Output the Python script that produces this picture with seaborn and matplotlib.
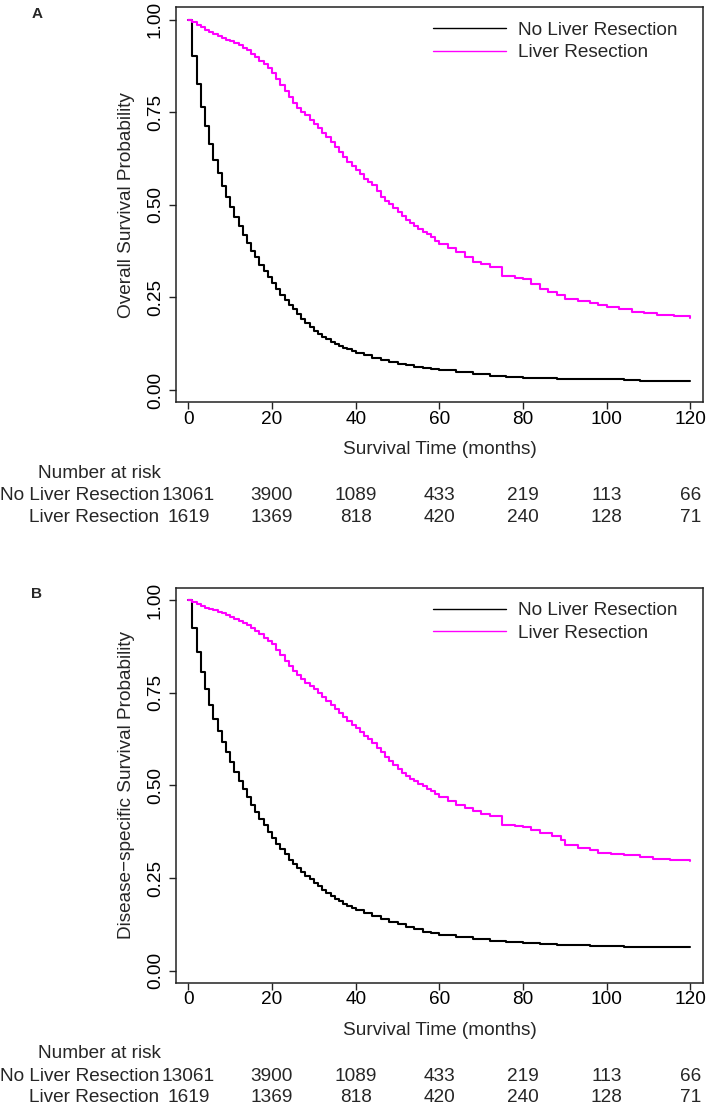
import numpy as np
import pandas as pd
import matplotlib
matplotlib.use("Agg")
import matplotlib.pyplot as plt
import seaborn as sns
from matplotlib.transforms import blended_transform_factory

# ---------------- data ----------------
groups = ["No Liver Resection", "Liver Resection"]
palette = {"No Liver Resection": "#000000", "Liver Resection": "#FF00FF"}

monthly = list(range(0, 61))

# Panel A: overall survival
os_no_t = list(range(0, 41)) + [42, 44, 46, 48, 50, 52, 54, 56, 58, 60, 64, 68, 72, 76, 80,
                                 84, 88, 92, 96, 100, 104, 108, 112, 116, 120]
os_no_s = [1.000, 0.901, 0.826, 0.764, 0.712, 0.665, 0.622, 0.585, 0.551, 0.520,
           0.495, 0.468, 0.442, 0.418, 0.396, 0.376, 0.358, 0.339, 0.322, 0.304,
           0.288, 0.272, 0.256, 0.243, 0.229, 0.218, 0.205, 0.193, 0.182, 0.171,
           0.160, 0.152, 0.144, 0.137, 0.130, 0.124, 0.119, 0.114, 0.110, 0.105,
           0.101, 0.094, 0.088, 0.082, 0.076, 0.071, 0.067, 0.063, 0.060, 0.057,
           0.054, 0.048, 0.043, 0.039, 0.036, 0.033, 0.032, 0.031, 0.030, 0.029,
           0.0288, 0.028, 0.026, 0.025, 0.024, 0.024]

os_lr_t = monthly + [62, 64, 66, 68, 70, 72, 75, 78, 80, 82, 84, 86, 88, 90, 93, 96, 98,
                     100, 103, 106, 109, 112, 116, 120]
os_lr_s = [1.000, 0.992, 0.985, 0.979, 0.973, 0.967, 0.962, 0.956, 0.951, 0.946,
           0.942, 0.937, 0.931, 0.924, 0.917, 0.908, 0.899, 0.889, 0.879, 0.868,
           0.856, 0.840, 0.823, 0.807, 0.791, 0.775, 0.760, 0.751, 0.742, 0.730,
           0.718, 0.706, 0.694, 0.682, 0.670, 0.657, 0.643, 0.630, 0.616, 0.605,
           0.594, 0.582, 0.571, 0.562, 0.553, 0.538, 0.522, 0.511, 0.501, 0.491,
           0.481, 0.470, 0.459, 0.450, 0.442, 0.434, 0.427, 0.420, 0.412, 0.403,
           0.394, 0.383, 0.373, 0.360, 0.346, 0.340, 0.333, 0.308, 0.303, 0.299,
           0.287, 0.274, 0.266, 0.258, 0.247, 0.240, 0.234, 0.229, 0.225, 0.219,
           0.212, 0.207, 0.204, 0.199, 0.195]

# Panel B: disease-specific survival
ds_no_t = list(range(0, 41)) + [42, 44, 46, 48, 50, 52, 54, 56, 58, 60, 64, 68, 72, 76, 80,
                                 84, 88, 92, 96, 100, 104, 108, 112, 116, 120]
ds_no_s = [1.000, 0.923, 0.860, 0.806, 0.761, 0.718, 0.680, 0.646, 0.617, 0.590,
           0.563, 0.536, 0.511, 0.489, 0.468, 0.446, 0.428, 0.410, 0.392, 0.374,
           0.358, 0.343, 0.329, 0.314, 0.300, 0.288, 0.277, 0.267, 0.257, 0.247,
           0.237, 0.228, 0.219, 0.210, 0.201, 0.194, 0.187, 0.180, 0.174, 0.169,
           0.165, 0.157, 0.149, 0.141, 0.133, 0.125, 0.118, 0.112, 0.106, 0.101,
           0.097, 0.090, 0.0855, 0.081, 0.077, 0.074, 0.071, 0.070, 0.069, 0.068,
           0.067, 0.065, 0.063, 0.063, 0.063, 0.063]

ds_lr_t = monthly + [62, 64, 66, 68, 70, 72, 75, 78, 80, 82, 84, 87, 89, 90, 93, 96, 98,
                     101, 104, 108, 111, 115, 118, 120]
ds_lr_s = [1.000, 0.994, 0.988, 0.983, 0.979, 0.976, 0.973, 0.968, 0.964, 0.959,
           0.954, 0.949, 0.943, 0.938, 0.932, 0.924, 0.916, 0.907, 0.898, 0.889,
           0.880, 0.866, 0.851, 0.836, 0.822, 0.809, 0.797, 0.787, 0.777, 0.768,
           0.759, 0.748, 0.738, 0.728, 0.718, 0.707, 0.696, 0.684, 0.673, 0.664,
           0.655, 0.644, 0.633, 0.624, 0.615, 0.602, 0.590, 0.577, 0.565, 0.554,
           0.543, 0.534, 0.525, 0.518, 0.511, 0.504, 0.498, 0.491, 0.484, 0.476,
           0.469, 0.457, 0.446, 0.438, 0.430, 0.423, 0.417, 0.392, 0.390, 0.388,
           0.380, 0.372, 0.363, 0.354, 0.338, 0.332, 0.327, 0.318, 0.315, 0.313,
           0.306, 0.302, 0.300, 0.298, 0.295]

# Number at risk
risk_times = [0, 20, 40, 60, 80, 100, 120]
risk_no = [13061, 3900, 1089, 433, 219, 113, 66]
risk_lr = [1619, 1369, 818, 420, 240, 128, 71]

x_ticks = [0, 20, 40, 60, 80, 100, 120]
y_ticks = [0.00, 0.25, 0.50, 0.75, 1.00]
y_tick_labels = ["0.00", "0.25", "0.50", "0.75", "1.00"]

panels = [
    dict(letter="A", ylabel="Overall Survival Probability",
         no=(os_no_t, os_no_s), lr=(os_lr_t, os_lr_s)),
    dict(letter="B", ylabel="Disease\u2212specific Survival Probability",
         no=(ds_no_t, ds_no_s), lr=(ds_lr_t, ds_lr_s)),
]

# ---------------- style ----------------
sns.set_theme(style="ticks")
plt.rcParams["font.family"] = ["Liberation Sans", "DejaVu Sans"]
FS = 13.7

W, H = 709, 1108
fig = plt.figure(figsize=(W / 100, H / 100), dpi=100)

axes_px = [(176, 7.3, 703.3, 402.0), (176, 587.7, 703.3, 982.7)]

for p, (l, t, r, b) in zip(panels, axes_px):
    ax = fig.add_axes([l / W, 1 - b / H, (r - l) / W, (b - t) / H])
    df = pd.concat([
        pd.DataFrame({"time": p["no"][0], "surv": p["no"][1], "group": groups[0]}),
        pd.DataFrame({"time": p["lr"][0], "surv": p["lr"][1], "group": groups[1]}),
    ], ignore_index=True)
    sns.lineplot(data=df, x="time", y="surv", hue="group", hue_order=groups,
                 palette=palette, drawstyle="steps-post", linewidth=1.5,
                 errorbar=None, legend=False, ax=ax, sort=True)

    ax.set_xlim(-2.94, 123.06)
    ax.set_ylim(-0.032, 1.033)
    ax.set_xticks(x_ticks)
    ax.set_xticklabels([str(v) for v in x_ticks])
    ax.set_yticks(y_ticks)
    ax.set_yticklabels(y_tick_labels, rotation=90, va="center")
    ax.tick_params(axis="x", length=4.8, width=1.0, pad=1.5, labelsize=FS,
                   color="#222222", labelcolor="black")
    ax.tick_params(axis="y", length=4.8, width=1.0, pad=4.0, labelsize=FS,
                   color="#222222", labelcolor="black")
    for s in ax.spines.values():
        s.set_visible(True)
        s.set_linewidth(1.1)
        s.set_color("#222222")

    ax.set_xlabel("Survival Time (months)", fontsize=FS)
    ax.xaxis.set_label_coords(0.5, -48.0 / (b - t))
    ax.xaxis.label.set_va("center")
    ax.set_ylabel(p["ylabel"], fontsize=FS)
    ax.yaxis.set_label_coords((126.7 - l) / (r - l), 0.5)
    ax.yaxis.label.set_va("center")

    leg = ax.legend(handles=ax.lines[:2], labels=groups, loc="upper left",
                    bbox_to_anchor=(0.488, 0.964), borderaxespad=0, borderpad=0,
                    frameon=False, fontsize=FS, handlelength=3.8,
                    handletextpad=0.66, labelspacing=0.28)
    for h in leg.legend_handles:
        h.set_linewidth(1.0)

    # number at risk table
    trans = blended_transform_factory(ax.transData, ax.transAxes)
    hpx = b - t
    ax.text((38 - l) / (r - l), -71.0 / hpx, "Number at risk", transform=ax.transAxes,
            ha="left", va="center", fontsize=FS)
    ax.text((159 - l) / (r - l), -93.5 / hpx, groups[0], transform=ax.transAxes,
            ha="right", va="center", fontsize=FS)
    ax.text((159 - l) / (r - l), -115.0 / hpx, groups[1], transform=ax.transAxes,
            ha="right", va="center", fontsize=FS)
    for tx, n1, n2 in zip(risk_times, risk_no, risk_lr):
        ax.text(tx, -93.5 / hpx, str(n1), transform=trans, ha="center", va="center",
                fontsize=FS)
        ax.text(tx, -115.0 / hpx, str(n2), transform=trans, ha="center", va="center",
                fontsize=FS)

    fig.text(36.7 / W, 1 - (t + 6.5) / H, p["letter"], ha="center", va="center",
             fontsize=11, fontweight="bold")

fig.savefig("out.png", dpi=100)
